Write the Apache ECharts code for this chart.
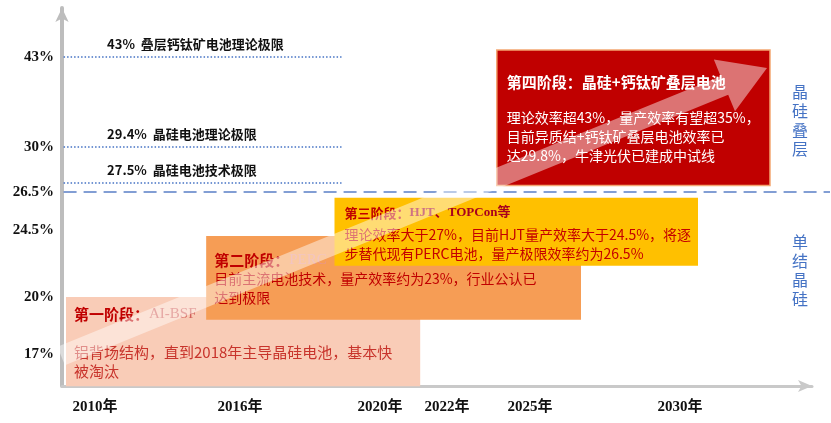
<!DOCTYPE html>
<html lang="zh">
<head>
<meta charset="utf-8">
<title>晶硅电池技术路线</title>
<style>
  html, body { margin: 0; padding: 0; background: #fff; }
  #main { width: 831px; height: 423px; }
</style>
</head>
<body>
<div id="main"></div>
<script src="https://cdn.jsdelivr.net/npm/echarts@6/dist/echarts.min.js"></script>
<script>
// 时间轴刻度：年份与其在轴上的位置（轴是不等距的）
var yearLabels = ['2010年', '2016年', '2020年', '2022年', '2025年', '2030年'];
var yearValues = [2010, 2016, 2020, 2022, 2025, 2030];
var yearSlots = [33, 178, 318, 385, 468, 618];

// 效率刻度
var pctLabels = ['17%', '20%', '24.5%', '26.5%', '30%', '43%'];
var pctValues = [17, 20, 24.5, 26.5, 30, 43];
var pctSlots = [32, 89, 156, 194, 239, 329];

// 四个阶段
var stageNames = ['第一阶段：', '第二阶段：', '第三阶段：', '第四阶段：'];
var stageTechs = ['AI-BSF', 'PERC', 'HJT、TOPCon等', '晶硅+钙钛矿叠层电池'];
var stageNotes = [
    '铝背场结构，直到2018年主导晶硅电池，基本快\n被淘汰',
    '目前主流电池技术，量产效率约为23%，行业公认已\n达到极限',
    '理论效率大于27%，目前HJT量产效率大于24.5%，将逐\n步替代现有PERC电池，量产极限效率约为26.5%',
    '理论效率超43%，量产效率有望超35%，\n目前异质结+钙钛矿叠层电池效率已\n达29.8%，牛津光伏已建成中试线'
];
var stageYearFrom = [2008.8, 2014.6, 2018.7, 2023.8];
var stageYearTo = [2021.2, 2026.7, 2030.6, 2033.0];
var stagePctLow = [15.3, 18.8, 22.1, 27.0];
var stagePctHigh = [20.0, 24.1, 26.2, 44.0];

// 效率极限
var limitLabels = ['43%  叠层钙钛矿电池理论极限', '29.4%  晶硅电池理论极限', '27.5%  晶硅电池技术极限'];
var limitPct = [43, 30, 27.2];
var limitYearFrom = 2008.7;
var limitYearTo = 2018.9;
var limitLabelYear = 2010.5;

// 单结 / 叠层分界
var boundaryPct = 26.5;
var boundaryYearFrom = 2008.7;
var boundaryYearTo = 2035;
var zoneLabels = ['晶\n硅\n叠\n层', '单\n结\n晶\n硅'];
var zonePct = [33.9, 21.8];
var zoneYear = 2034;

// 趋势箭头
var arrowFrom = [2008.6, 16.9];
var arrowTo = [2032.9, 41.4];

function interp(v, xs, ys) {
    var n = xs.length, i = 0;
    if (v <= xs[0]) i = 0;
    else if (v >= xs[n - 1]) i = n - 2;
    else while (v > xs[i + 1]) i++;
    return ys[i] + (v - xs[i]) * (ys[i + 1] - ys[i]) / (xs[i + 1] - xs[i]);
}
function yearSlot(y) { return interp(y, yearValues, yearSlots); }
function pctSlot(p) { return interp(p, pctValues, pctSlots); }

var CJK = '"Noto Sans CJK SC", sans-serif';
var SERIF = '"Liberation Serif", "Noto Sans CJK SC", serif';

var boxFill = ['#F9CCB7', '#F69D55', '#FFC000', '#C00000'];
var titleColor = ['#C00000', '#C00000', '#C00000', '#FFFFFF'];
var techColor = ['#D2605A', '#E8968F', '#A8001E', '#FFFFFF'];
var noteColor = ['#C8342C', '#C00000', '#C40000', '#FFFFFF'];
var titleSize = [15, 15, 13, 15];
var noteSize = [15, 14, 14, 14];
var titleOffset = [[8, 17], [8, 24], [10, 15], [10, 32]];
var noteOffset = [[8, 46], [8, 33], [10, 27], [10, 58]];

var chart = echarts.init(document.getElementById('main'), null, { renderer: 'canvas' });

var option = {
    animation: false,
    backgroundColor: '#fff',
    grid: { left: 62, right: 19, top: 8, bottom: 37 },
    xAxis: {
        type: 'value', min: 0, max: 750,
        splitLine: { show: false },
        axisTick: { show: false },
        axisLine: {
            show: true, symbol: ['none', 'arrow'], symbolSize: [9, 14],
            lineStyle: { color: '#C9C9C9', width: 3 }
        },
        axisLabel: {
            customValues: yearValues.map(yearSlot),
            formatter: function (v) {
                for (var i = 0; i < yearSlots.length; i++) if (Math.abs(yearSlots[i] - v) < 0.5) return yearLabels[i];
                return '';
            },
            margin: 14, color: '#111', fontSize: 15, fontWeight: 'bold', fontFamily: SERIF
        }
    },
    yAxis: {
        type: 'value', min: 0, max: 378,
        splitLine: { show: false },
        axisTick: { show: false },
        axisLine: {
            show: true, symbol: ['none', 'arrow'], symbolSize: [10, 14],
            lineStyle: { color: '#BDBDBD', width: 4 }
        },
        axisLabel: {
            customValues: pctValues.map(pctSlot),
            formatter: function (v) {
                for (var i = 0; i < pctSlots.length; i++) if (Math.abs(pctSlots[i] - v) < 0.5) return pctLabels[i];
                return '';
            },
            margin: 8, color: '#111', fontSize: 15, fontWeight: 'bold', fontFamily: SERIF
        }
    },
    series: [
        {
            // 效率极限虚线 + 文字
            type: 'custom', z: 2,
            data: limitPct.map(function (p, i) { return [yearSlot(limitYearFrom), pctSlot(p), yearSlot(limitYearTo), i]; }),
            renderItem: function (params, api) {
                var i = api.value(3);
                var a = api.coord([api.value(0), api.value(1)]);
                var b = api.coord([api.value(2), api.value(1)]);
                var l = api.coord([yearSlot(limitLabelYear), api.value(1)]);
                return {
                    type: 'group', children: [
                        { type: 'line', shape: { x1: a[0], y1: a[1], x2: b[0], y2: b[1] },
                          style: { stroke: '#4472C4', lineWidth: 1.3, lineDash: [1.5, 2] } },
                        { type: 'text', x: l[0], y: l[1] - 13,
                          style: { text: limitLabels[i], fill: '#111', fontSize: 13, fontWeight: 'bold',
                                   fontFamily: CJK, align: 'left', verticalAlign: 'middle' } }
                    ]
                };
            }
        },
        {
            // 单结 / 叠层分界线
            type: 'custom', z: 2,
            data: [[yearSlot(boundaryYearFrom), pctSlot(boundaryPct), yearSlot(boundaryYearTo)]],
            renderItem: function (params, api) {
                var a = api.coord([api.value(0), api.value(1)]);
                var b = api.coord([api.value(2), api.value(1)]);
                return { type: 'line', shape: { x1: a[0], y1: a[1], x2: b[0], y2: b[1] },
                         style: { stroke: '#5A7FC6', lineWidth: 1.6, lineDash: [13, 7] } };
            }
        },
        {
            // 右侧区域文字
            type: 'custom', z: 2,
            data: zonePct.map(function (p, i) { return [yearSlot(zoneYear), pctSlot(p), i]; }),
            renderItem: function (params, api) {
                var c = api.coord([api.value(0), api.value(1)]);
                return { type: 'text', x: c[0], y: c[1],
                         style: { text: zoneLabels[api.value(2)], fill: '#4472C4', fontSize: 16, lineHeight: 19,
                                  fontFamily: CJK, align: 'center', verticalAlign: 'middle' } };
            }
        },
        {
            // 阶段方框
            type: 'custom', z: 3,
            data: stageNames.map(function (n, i) {
                return [yearSlot(stageYearFrom[i]), pctSlot(stagePctHigh[i]), yearSlot(stageYearTo[i]), pctSlot(stagePctLow[i]), i];
            }),
            renderItem: function (params, api) {
                var i = api.value(4);
                var a = api.coord([api.value(0), api.value(1)]);
                var b = api.coord([api.value(2), api.value(3)]);
                var rich = {
                    t: { fill: titleColor[i], fontSize: titleSize[i], fontWeight: 'bold', fontFamily: CJK },
                    s: { fill: techColor[i], fontSize: titleSize[i], fontWeight: i === 2 || i === 3 ? 'bold' : 'normal',
                         fontFamily: i === 3 ? CJK : SERIF }
                };
                return {
                    type: 'group', children: [
                        { type: 'rect', shape: { x: a[0], y: a[1], width: b[0] - a[0], height: b[1] - a[1] },
                          style: { fill: boxFill[i], stroke: i === 3 ? '#F4A672' : null, lineWidth: i === 3 ? 1.5 : 0 } },
                        { type: 'text', x: a[0] + titleOffset[i][0], y: a[1] + titleOffset[i][1],
                          style: { text: '{t|' + stageNames[i] + '}{s|' + stageTechs[i] + '}', rich: rich,
                                   align: 'left', verticalAlign: 'middle' } },
                        { type: 'text', x: a[0] + noteOffset[i][0], y: a[1] + noteOffset[i][1],
                          style: { text: stageNotes[i], fill: noteColor[i], fontSize: noteSize[i], lineHeight: 19,
                                   fontFamily: CJK, align: 'left', verticalAlign: 'top' } }
                    ]
                };
            }
        },
        {
            // 半透明趋势箭头
            type: 'custom', z: 5,
            data: [[yearSlot(arrowFrom[0]), pctSlot(arrowFrom[1]), yearSlot(arrowTo[0]), pctSlot(arrowTo[1])]],
            renderItem: function (params, api) {
                var p0 = api.coord([api.value(0), api.value(1)]);
                var p1 = api.coord([api.value(2), api.value(3)]);
                var dx = p1[0] - p0[0], dy = p1[1] - p0[1];
                var len = Math.sqrt(dx * dx + dy * dy);
                var ux = dx / len, uy = dy / len, nx = -uy, ny = ux;
                var w = 10, hw = 28, hl = 46;
                var bx = p1[0] - ux * hl, by = p1[1] - uy * hl;
                var pts = [
                    [p0[0] + nx * w, p0[1] + ny * w],
                    [bx + nx * w, by + ny * w],
                    [bx + nx * hw, by + ny * hw],
                    [p1[0], p1[1]],
                    [bx - nx * hw, by - ny * hw],
                    [bx - nx * w, by - ny * w],
                    [p0[0] - nx * w, p0[1] - ny * w]
                ];
                return { type: 'polygon', shape: { points: pts }, style: { fill: 'rgba(255,255,255,0.45)' } };
            }
        }
    ]
};

chart.setOption(option);
</script>
</body>
</html>
